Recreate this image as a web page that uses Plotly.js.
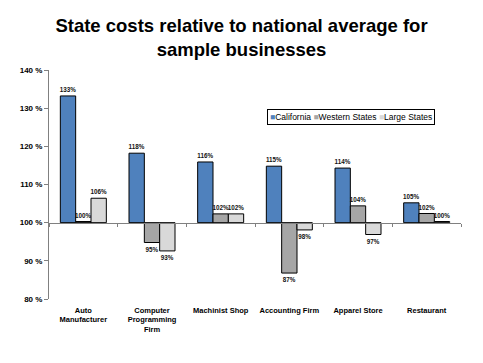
<!DOCTYPE html>
<html>
<head>
<meta charset="utf-8">
<script src="https://cdn.plot.ly/plotly-3.0.1.min.js"></script>
<style>html,body{margin:0;padding:0;background:#fff;}#chart{width:483px;height:363px;}</style>
</head>
<body>
<div id="chart"></div>
<script>
const categories = ['Auto<br>Manufacturer', 'Computer<br>Programming<br>Firm', 'Machinist Shop', 'Accounting Firm', 'Apparel Store', 'Restaurant'];
const seriesNames = ['California', 'Western States', 'Large States'];
const california = [133.2, 118.2, 115.9, 114.8, 114.3, 105.2];
const western = [100.3, 94.8, 102.3, 86.8, 104.4, 102.4];
const large = [106.4, 92.6, 102.3, 98.1, 96.9, 100.3];
const seriesColors = ['#4F81BD', '#A6A6A6', '#D9D9D9'];
const baseline = 100;
const yTicks = [80, 90, 100, 110, 120, 130, 140];

const allSeries = [california, western, large];
const traces = allSeries.map((vals, i) => ({
  type: 'bar',
  name: seriesNames[i],
  x: categories,
  y: vals.map(v => v - baseline),
  base: baseline,
  text: vals.map(v => Math.round(v) + '%'),
  textposition: 'outside',
  constraintext: 'none',
  cliponaxis: false,
  textfont: {family: 'Arial, Liberation Sans', size: 6.3, color: '#111', weight: 'bold'},
  marker: {color: seriesColors[i], line: {color: '#000', width: 1}},
  hoverinfo: 'skip',
  showlegend: false
}));
// helper trace for the baseline axis with boundary ticks
traces.push({type: 'scatter', x: [], y: [], xaxis: 'x2', yaxis: 'y', showlegend: false, hoverinfo: 'skip'});

const legendText = seriesNames.map((n, i) =>
  '<span style="color:' + seriesColors[i] + '">■</span>' + n).join(' ');

const layout = {
  width: 483, height: 363,
  margin: {l: 49, r: 22, t: 70, b: 64},
  paper_bgcolor: '#fff', plot_bgcolor: '#fff',
  font: {family: 'Arial, Liberation Sans', color: '#000'},
  title: {
    text: 'State costs relative to national average for<br>sample businesses',
    font: {size: 18.5, weight: 'bold', family: 'Arial, Liberation Sans', color: '#000'},
    x: 0.5, xanchor: 'center', y: 0.912, yanchor: 'top'
  },
  barmode: 'group', bargap: 0.33, bargroupgap: 0,
  xaxis: {
    type: 'category', showline: false, ticks: '', showgrid: false, zeroline: false,
    tickfont: {size: 7.5, weight: 'bold'}, ticklabelstandoff: 5
  },
  xaxis2: {
    overlaying: 'x', anchor: 'free', position: (baseline - 80) / 60,
    range: [-0.5, 5.5], tick0: -0.5, dtick: 1, ticks: 'outside', ticklen: 3,
    tickcolor: '#808080', showline: true, linecolor: '#808080', linewidth: 1,
    showticklabels: false, showgrid: false, zeroline: false
  },
  yaxis: {
    range: [80, 140], tickvals: yTicks, ticktext: yTicks.map(v => v + ' %'),
    showline: true, linecolor: '#808080', linewidth: 1,
    ticks: 'outside', ticklen: 4, tickcolor: '#808080',
    showgrid: false, zeroline: false,
    tickfont: {size: 8, weight: 'bold'}
  },
  annotations: [{
    xref: 'paper', yref: 'paper', x: 0.733, y: 0.793, xanchor: 'center', yanchor: 'middle',
    text: legendText, showarrow: false,
    font: {size: 8.5, family: 'Arial, Liberation Sans', color: '#000'},
    bordercolor: '#000', borderwidth: 1, borderpad: 2, bgcolor: '#fff'
  }]
};

Plotly.newPlot('chart', traces, layout, {displayModeBar: false, staticPlot: true});
</script>
</body>
</html>
